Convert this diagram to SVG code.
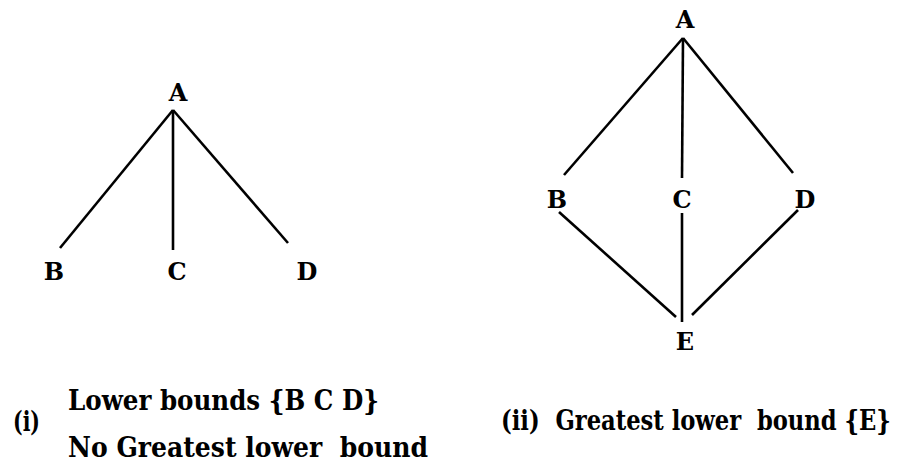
<svg xmlns="http://www.w3.org/2000/svg" width="910" height="463" viewBox="0 0 910 463">
<style>
.lbl{font-family:"DejaVu Serif","Liberation Serif",serif;font-weight:bold;font-size:24px;fill:#000;text-anchor:middle}
.cap{font-family:"DejaVu Serif Condensed","DejaVu Serif","Liberation Serif",serif;font-weight:bold;font-size:27px;fill:#000;white-space:pre}
.edge{stroke:#000;stroke-width:2.6;fill:none;stroke-linecap:butt}
</style>
<rect width="910" height="463" fill="#fff"/>
<g id="connectors">
<line class="edge" x1="173" y1="110" x2="60" y2="248"/>
<line class="edge" x1="173" y1="110" x2="173" y2="250"/>
<line class="edge" x1="173" y1="110" x2="288" y2="243"/>
<line class="edge" x1="683" y1="38" x2="564" y2="175"/>
<line class="edge" x1="683" y1="38" x2="682" y2="178"/>
<line class="edge" x1="683" y1="38" x2="793" y2="173"/>
<line class="edge" x1="559" y1="212" x2="676" y2="317"/>
<line class="edge" x1="682" y1="213" x2="682" y2="322"/>
<line class="edge" x1="798" y1="210" x2="692" y2="315"/>
</g>
<g id="i-A"><text class="lbl" x="178" y="101">A</text></g>
<g id="i-B"><text class="lbl" x="54" y="280">B</text></g>
<g id="i-C"><text class="lbl" x="177" y="280">C</text></g>
<g id="i-D"><text class="lbl" x="307" y="280">D</text></g>
<g id="ii-A"><text class="lbl" x="685" y="28">A</text></g>
<g id="ii-B"><text class="lbl" x="557" y="208">B</text></g>
<g id="ii-C"><text class="lbl" x="682" y="208">C</text></g>
<g id="ii-D"><text class="lbl" x="805" y="208">D</text></g>
<g id="ii-E"><text class="lbl" x="685" y="350">E</text></g>
<g id="caption-i">
<text class="cap" x="13" y="431" textLength="27" lengthAdjust="spacingAndGlyphs">(i)</text>
<text class="cap" x="68" y="410" textLength="311" lengthAdjust="spacingAndGlyphs">Lower bounds {B C D}</text>
<text class="cap" x="68" y="457" textLength="360" lengthAdjust="spacingAndGlyphs">No Greatest lower  bound</text>
</g>
<g id="caption-ii">
<text class="cap" transform="translate(501 430) scale(0.88 1)" x="0" y="0" textLength="443" lengthAdjust="spacingAndGlyphs">(ii)  Greatest lower  bound {E}</text>
</g>
</svg>
